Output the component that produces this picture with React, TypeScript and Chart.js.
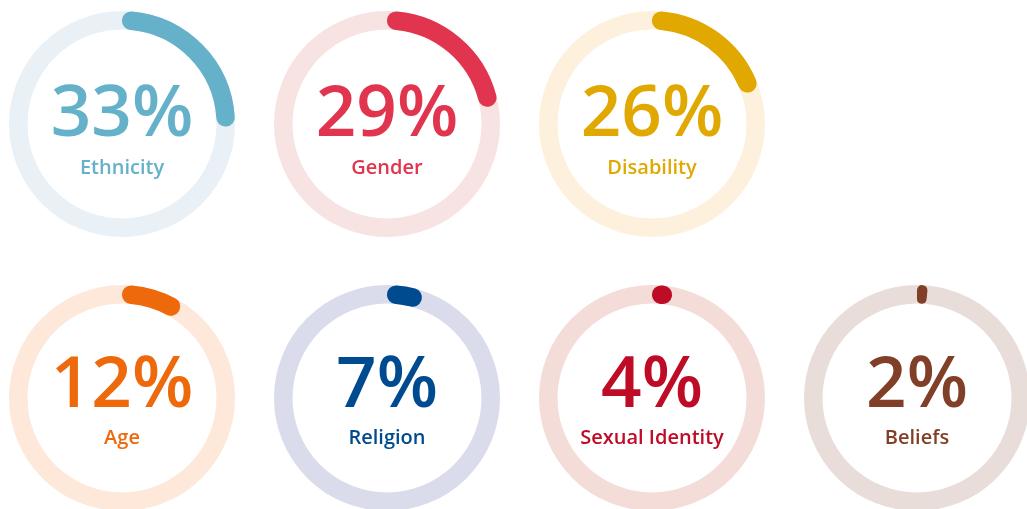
import React, { useEffect, useRef } from "react";
import { Chart, registerables } from "chart.js";

Chart.register(...registerables);

const categories = ["Ethnicity", "Gender", "Disability", "Age", "Religion", "Sexual Identity", "Beliefs"];
const percentages = [33, 29, 26, 12, 7, 4, 2];
const percentLabels = ["33%", "29%", "26%", "12%", "7%", "4%", "2%"];
const ringColors = ["#64b1c9", "#e1344f", "#e0a800", "#ee680c", "#004b8f", "#be0b26", "#823f28"];
const trackColors = ["#e9f0f6", "#f8e3e3", "#fdf1dd", "#fde8da", "#dadcec", "#f4ddd8", "#e8ddd8"];
// value that a full ring stands for in the original graphic
const FULL_RING_VALUE = 130;

const centers = [
  [121.5, 123.5],
  [386.5, 123.5],
  [651.5, 123.5],
  [121.5, 398],
  [386.5, 398],
  [651.5, 398],
  [916.5, 398],
];
const BOX = 240;
const FONT = "'Open Sans', 'Noto Sans', sans-serif";

function Ring({ index }: { index: number }) {
  const ref = useRef<HTMLCanvasElement>(null);
  useEffect(() => {
    if (!ref.current) return;
    const value = percentages[index];
    const topRow = index < 3;
    const trackPlugin = {
      id: "track",
      beforeDatasetsDraw(chart: any) {
        const arc = chart.getDatasetMeta(0).data[0] as any;
        if (!arc) return;
        const { x, y, innerRadius, outerRadius } = arc;
        const ctx = chart.ctx;
        ctx.save();
        ctx.beginPath();
        ctx.arc(x, y, (innerRadius + outerRadius) / 2, 0, Math.PI * 2);
        ctx.lineWidth = outerRadius - innerRadius;
        ctx.strokeStyle = trackColors[index];
        ctx.stroke();
        ctx.restore();
      },
      afterDraw(chart: any) {
        const arc = chart.getDatasetMeta(0).data[0] as any;
        if (!arc) return;
        const { x, y } = arc;
        const ctx = chart.ctx;
        ctx.save();
        ctx.fillStyle = ringColors[index];
        ctx.textAlign = "center";
        ctx.textBaseline = "alphabetic";
        ctx.font = `600 71px ${FONT}`;
        ctx.fillText(percentLabels[index], x, y + (topRow ? 12 : 9));
        ctx.font = `600 20px ${FONT}`;
        ctx.fillText(categories[index], x, y + (topRow ? 50 : 45.5));
        ctx.restore();
      },
    };
    const chart = new Chart(ref.current, {
      type: "doughnut",
      data: {
        labels: [categories[index], ""],
        datasets: [
          {
            data: [value, FULL_RING_VALUE - value],
            backgroundColor: [ringColors[index], "rgba(0,0,0,0)"],
            borderWidth: 0,
            borderRadius: [9, 0] as any,
            hoverOffset: 0,
          },
        ],
      },
      options: {
        responsive: false,
        animation: false,
        radius: 113,
        cutout: "83.6%",
        layout: { padding: 0 },
        plugins: {
          legend: { display: false },
          tooltip: { enabled: false },
          title: { display: false },
        },
        events: [],
      } as any,
      plugins: [trackPlugin],
    });
    return () => chart.destroy();
  }, [index]);
  const [cx, cy] = centers[index];
  return (
    <div style={{ position: "absolute", left: cx - BOX / 2, top: cy - BOX / 2, width: BOX, height: BOX }}>
      <canvas ref={ref} width={BOX} height={BOX} style={{ width: BOX, height: BOX, display: "block" }} />
    </div>
  );
}

export default function App() {
  return (
    <div
      style={{
        position: "fixed",
        left: 0,
        top: 0,
        width: 1027,
        height: 509,
        overflow: "hidden",
        background: "#ffffff",
      }}
    >
      {categories.map((_, i) => (
        <Ring key={i} index={i} />
      ))}
    </div>
  );
}
